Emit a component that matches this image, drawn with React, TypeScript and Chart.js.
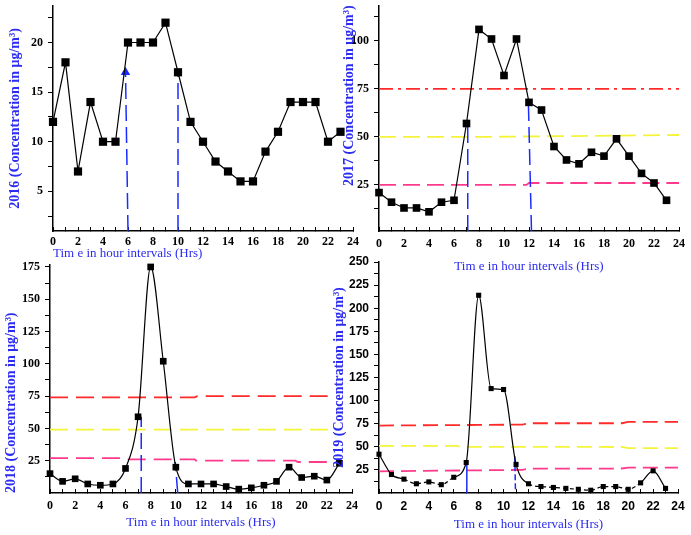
import React, { useEffect, useRef } from "react";
import { Chart, registerables } from "chart.js";

Chart.register(...registerables);

// ---------- data ----------
const HOURS = [0, 1, 2, 3, 4, 5, 6, 7, 8, 9, 10, 11, 12, 13, 14, 15, 16, 17, 18, 19, 20, 21, 22, 23];
const X_TICKS = [0, 1, 2, 3, 4, 5, 6, 7, 8, 9, 10, 11, 12, 13, 14, 15, 16, 17, 18, 19, 20, 21, 22, 23, 24];
const X_LABELS = [0, 2, 4, 6, 8, 10, 12, 14, 16, 18, 20, 22, 24];

const PM2016 = [12, 18, 7, 14, 10, 10, 20, 20, 20, 22, 17, 12, 10, 8, 7, 6, 6, 9, 11, 14, 14, 14, 10, 11];
const PM2017 = [21, 16, 13, 13, 11, 16, 17, 57, 106, 101, 82, 101, 68, 64, 45, 38, 36, 42, 40, 49, 40, 31, 26, 17];
const PM2018 = [15, 9, 11, 7, 6, 7, 19, 59, 175, 102, 20, 7, 7, 7, 5, 3, 4, 6, 9, 20, 12, 13, 10, 23];
const PM2019 = [42, 20, 15, 10, 12, 9, 17, 33, 214, 113, 112, 31, 10, 7, 6, 5, 4, 3, 7, 7, 4, 11, 24, 5];

const Y_TICKS_2016 = [2.5, 5, 7.5, 10, 12.5, 15, 17.5, 20, 22.5];
const Y_LABELS_2016 = [5, 10, 15, 20];
const Y_TICKS_2017 = [12.5, 25, 37.5, 50, 62.5, 75, 87.5, 100, 112.5];
const Y_LABELS_2017 = [25, 50, 75, 100];
const Y_TICKS_2018 = [12.5, 25, 37.5, 50, 62.5, 75, 87.5, 100, 112.5, 125, 137.5, 150, 162.5, 175];
const Y_LABELS_2018 = [25, 50, 75, 100, 125, 150, 175];
const Y_TICKS_2019 = [12.5, 25, 37.5, 50, 62.5, 75, 87.5, 100, 112.5, 125, 137.5, 150, 162.5, 175, 187.5, 200, 212.5, 225, 237.5, 250];
const Y_LABELS_2019 = [25, 50, 75, 100, 125, 150, 175, 200, 225, 250];

type Pair = [number, number];

// reference (limit) lines, [hour, concentration]
const RED_2017: Pair[] = [[0, 75], [24, 75]];
const YELLOW_2017: Pair[] = [[0, 50], [8, 50], [24, 51]];
const PINK_2017: Pair[] = [[0, 25], [11.8, 25], [12, 26], [24, 26]];

const RED_2018: Pair[] = [[0, 74], [11.5, 74], [11.7, 75], [22.5, 75]];
const YELLOW_2018: Pair[] = [[0, 49], [22.5, 49]];
const PINK_2018: Pair[] = [[0, 27], [5.9, 27], [6.1, 26], [11.5, 26], [11.6, 25], [19.5, 25], [19.7, 24], [22.5, 24]];

const RED_2019: Pair[] = [[0, 73], [11.5, 74], [12, 75.5], [19.5, 75.5], [20, 77], [24, 77]];
const YELLOW_2019: Pair[] = [[0, 51], [6.3, 51], [6.5, 50], [19.5, 49.8], [20, 48.5], [24, 48.5]];
const PINK_2019: Pair[] = [[0, 23.5], [11.5, 25], [12, 26.3], [19.5, 26.5], [20, 27.5], [24, 27.5]];

// blue vertical markers
const MARK_2016_A: Pair[] = [[6, 1], [5.8, 17]];
const MARK_2016_B: Pair[] = [[10, 1], [10, 17]];
const MARK_2017_A: Pair[] = [[7.1, 1], [7.1, 57]];
const MARK_2017_B: Pair[] = [[12.2, 1], [11.95, 68]];
const MARK_2018_A: Pair[] = [[7.25, 0], [7.25, 59]];
const MARK_2018_B: Pair[] = [[10.15, 0], [9.95, 24]];
const MARK_2019_A: Pair[] = [[7.05, 0], [7.05, 33]];
const MARK_2019_B: Pair[] = [[10.95, 4], [10.9, 40]];

const X_TITLE = "Tim e in hour intervals (Hrs)";

// ---------- styling ----------
const W = 691;
const H = 535;
const TITLE_BLUE = "#2b2bf2";
const MARK_BLUE = "#1a2cff";
const RED = "#ff2a2a";
const YELLOW = "#f4f43a";
const PINK = "#ff3a8c";
const SERIF = '"Liberation Serif", "Times New Roman", serif';
const SANS = '"Liberation Sans", Arial, sans-serif';

type Align = "start" | "center" | "end";
interface RefLine { data: Pair[]; color: string; dash: number[] }
interface Marker { data: Pair[]; dash: number[]; arrow?: boolean }
interface PanelSpec {
  area: { left: number; top: number; right: number; bottom: number };
  yWidth: number;
  xHeight: number;
  xTickPad: number;
  yMin: number;
  yMax: number;
  yTicks: number[];
  yLabels: number[];
  yTitle: string;
  yTitleAlign: Align;
  xTitleAlign: Align;
  tickFamily: string;
  series: number[];
  pointR: number;
  smooth: boolean;
  dashLow: boolean;
  refs: RefLine[];
  markers: Marker[];
}

const PANELS: PanelSpec[] = [
  {
    area: { left: 53, top: 3, right: 353, bottom: 231 },
    yWidth: 46, xHeight: 30, xTickPad: 8, yMin: 1, yMax: 23.7,
    yTicks: Y_TICKS_2016, yLabels: Y_LABELS_2016,
    yTitle: "2016 (Concentration in μg/m³)", yTitleAlign: "center", xTitleAlign: "start",
    tickFamily: SERIF, series: PM2016, pointR: 5.8, smooth: false, dashLow: false,
    refs: [],
    markers: [
      { data: MARK_2016_A, dash: [16, 6], arrow: true },
      { data: MARK_2016_B, dash: [16, 6] },
    ],
  },
  {
    area: { left: 379, top: 3, right: 679, bottom: 231 },
    yWidth: 38, xHeight: 43, xTickPad: 10, yMin: 1, yMax: 118.5,
    yTicks: Y_TICKS_2017, yLabels: Y_LABELS_2017,
    yTitle: "2017 (Concentration in μg/m³)", yTitleAlign: "end", xTitleAlign: "center",
    tickFamily: SERIF, series: PM2017, pointR: 5.4, smooth: false, dashLow: false,
    refs: [
      { data: RED_2017, color: RED, dash: [14, 5, 3, 5] },
      { data: YELLOW_2017, color: YELLOW, dash: [17, 7] },
      { data: PINK_2017, color: PINK, dash: [17, 7] },
    ],
    markers: [
      { data: MARK_2017_A, dash: [16, 6] },
      { data: MARK_2017_B, dash: [16, 6] },
    ],
  },
  {
    area: { left: 50, top: 265, right: 352, bottom: 493 },
    yWidth: 47, xHeight: 37, xTickPad: 10, yMin: 0, yMax: 176.5,
    yTicks: Y_TICKS_2018, yLabels: Y_LABELS_2018,
    yTitle: "2018 (Concentration in μg/m³)", yTitleAlign: "start", xTitleAlign: "center",
    tickFamily: SERIF, series: PM2018, pointR: 4.7, smooth: true, dashLow: false,
    refs: [
      { data: RED_2018, color: RED, dash: [18, 8] },
      { data: YELLOW_2018, color: YELLOW, dash: [18, 8] },
      { data: PINK_2018, color: PINK, dash: [18, 8] },
    ],
    markers: [
      { data: MARK_2018_A, dash: [16, 6] },
      { data: MARK_2018_B, dash: [16, 6] },
    ],
  },
  {
    area: { left: 379, top: 262, right: 678, bottom: 493 },
    yWidth: 48, xHeight: 39, xTickPad: 10, yMin: 0, yMax: 250,
    yTicks: Y_TICKS_2019, yLabels: Y_LABELS_2019,
    yTitle: "2019 (Concentration in μg/m³)", yTitleAlign: "center", xTitleAlign: "center",
    tickFamily: SANS, series: PM2019, pointR: 3.6, smooth: true, dashLow: true,
    refs: [
      { data: RED_2019, color: RED, dash: [15, 7] },
      { data: YELLOW_2019, color: YELLOW, dash: [15, 7] },
      { data: PINK_2019, color: PINK, dash: [15, 7] },
    ],
    markers: [
      { data: MARK_2019_A, dash: [] },
      { data: MARK_2019_B, dash: [6, 3] },
    ],
  },
];

const toXY = (xs: number[], ys: number[]) => xs.map((x, i) => ({ x, y: ys[i] }));
const pairsToXY = (p: Pair[]) => p.map(([x, y]) => ({ x, y }));

function zeroPad(ax: any) {
  ax.paddingLeft = 0;
  ax.paddingRight = 0;
  ax.paddingTop = 0;
  ax.paddingBottom = 0;
}

function buildConfig(p: PanelSpec): any {
  const datasets: any[] = [
    {
      data: toXY(HOURS, p.series),
      borderColor: "#000",
      borderWidth: 1.2,
      pointStyle: "rect",
      pointRadius: p.pointR,
      pointBackgroundColor: "#000",
      pointBorderColor: "#000",
      pointBorderWidth: 0,
      tension: p.smooth ? 0.4 : 0,
      cubicInterpolationMode: p.smooth ? "monotone" : "default",
      clip: false,
      segment: p.dashLow
        ? { borderDash: (ctx: any) => (ctx.p0.parsed.y < 20 && ctx.p1.parsed.y < 20 ? [4, 3] : undefined) }
        : undefined,
    },
    ...p.markers.map((m) => ({
      data: pairsToXY(m.data),
      borderColor: MARK_BLUE,
      borderWidth: 1.5,
      borderDash: m.dash,
      pointStyle: "triangle",
      pointRadius: m.arrow ? [0, 4] : 0,
      pointBackgroundColor: MARK_BLUE,
      pointBorderColor: MARK_BLUE,
      tension: 0,
    })),
    ...p.refs.map((r) => ({
      data: pairsToXY(r.data),
      borderColor: r.color,
      borderWidth: 1.8,
      borderDash: r.dash,
      pointRadius: 0,
      tension: 0,
    })),
  ];

  return {
    type: "line",
    data: { datasets },
    options: {
      animation: false,
      responsive: false,
      events: [],
      layout: {
        padding: {
          left: p.area.left - p.yWidth,
          top: p.area.top,
          right: W - p.area.right,
          bottom: H - p.area.bottom - p.xHeight,
        },
      },
      plugins: { legend: { display: false }, tooltip: { enabled: false } },
      scales: {
        x: {
          type: "linear",
          min: 0,
          max: 24,
          afterBuildTicks: (ax: any) => {
            ax.ticks = X_TICKS.map((v) => ({ value: v }));
          },
          afterFit: (ax: any) => {
            ax.height = p.xHeight;
            zeroPad(ax);
          },
          grid: { drawOnChartArea: false, drawTicks: true, tickLength: -4, color: "#000", lineWidth: 1 },
          border: { color: "#000", width: 1.5 },
          ticks: {
            autoSkip: false,
            maxRotation: 0,
            padding: p.xTickPad,
            color: "#000",
            font: { family: p.tickFamily, size: 12, weight: "bold" },
            callback: (v: number) => (X_LABELS.includes(v) ? String(v) : ""),
          },
          title: {
            display: true,
            text: X_TITLE,
            align: p.xTitleAlign,
            color: TITLE_BLUE,
            padding: 0,
            font: { family: SERIF, size: 13, weight: "normal", lineHeight: 1.2 },
          },
        },
        y: {
          type: "linear",
          min: p.yMin,
          max: p.yMax,
          afterBuildTicks: (ax: any) => {
            ax.ticks = p.yTicks.map((v) => ({ value: v }));
          },
          afterFit: (ax: any) => {
            ax.width = p.yWidth;
            zeroPad(ax);
          },
          grid: { drawOnChartArea: false, drawTicks: true, tickLength: 5, color: "#000", lineWidth: 1 },
          border: { color: "#000", width: 1.5 },
          ticks: {
            autoSkip: false,
            padding: 5,
            color: "#000",
            font: { family: p.tickFamily, size: 12, weight: "bold" },
            callback: (v: number) => (p.yLabels.includes(v) ? String(v) : ""),
          },
          title: {
            display: true,
            text: p.yTitle,
            align: p.yTitleAlign,
            color: TITLE_BLUE,
            padding: 0,
            font: { family: SERIF, size: 14, weight: "bold", lineHeight: 1.2 },
          },
        },
      },
    },
  };
}

function Panel({ spec }: { spec: PanelSpec }) {
  const ref = useRef<HTMLCanvasElement>(null);
  useEffect(() => {
    const chart = new Chart(ref.current as HTMLCanvasElement, buildConfig(spec));
    return () => chart.destroy();
  }, [spec]);
  return (
    <canvas
      ref={ref}
      width={W}
      height={H}
      style={{ position: "absolute", left: 0, top: 0, width: W, height: H }}
    />
  );
}

export default function App() {
  return (
    <div
      style={{
        position: "absolute",
        left: 0,
        top: 0,
        width: W,
        height: H,
        background: "#fff",
        overflow: "hidden",
      }}
    >
      {PANELS.map((p, i) => (
        <Panel key={i} spec={p} />
      ))}
    </div>
  );
}
